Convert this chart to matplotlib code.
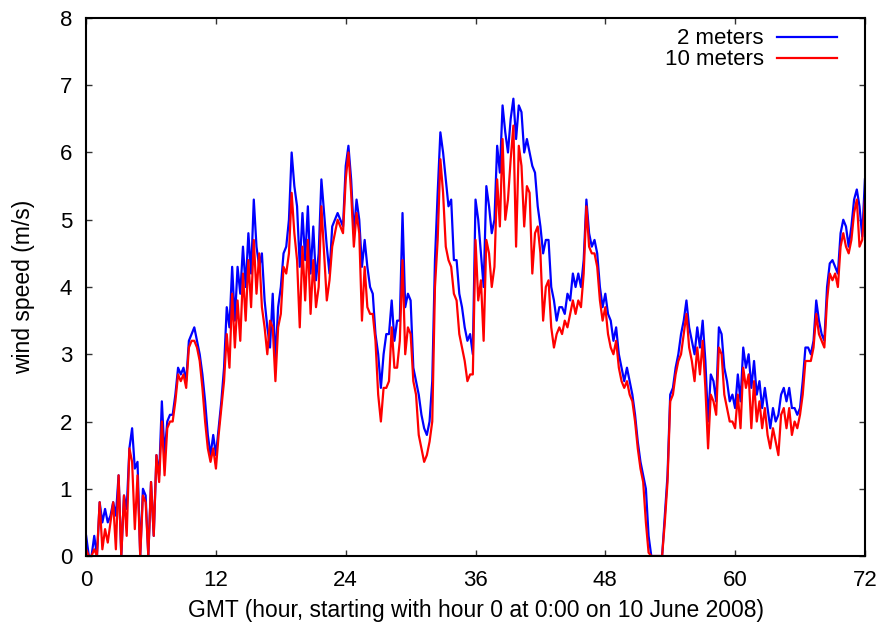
import numpy as np
import matplotlib.pyplot as plt

plt.rcParams['font.family'] = ['Liberation Sans', 'DejaVu Sans']

# wind speed (m/s) every 15 minutes, hour 0..72 (GMT)
speed_2m = [
    0.3, 0.0, 0.0, 0.3,   0.0, 0.8, 0.5, 0.7,   0.5, 0.6, 0.8, 0.6,
    1.2, 0.0, 0.9, 0.7,   1.6, 1.9, 1.3, 1.4,   0.0, 1.0, 0.9, 0.0,
    1.1, 0.3, 1.5, 1.2,   2.3, 1.5, 2.0, 2.1,   2.1, 2.4, 2.8, 2.7,
    2.8, 2.6, 3.2, 3.3,   3.4, 3.2, 3.0, 2.7,   2.3, 1.8, 1.5, 1.8,
    1.5, 1.9, 2.3, 2.8,   3.7, 3.4, 4.3, 3.5,   4.3, 3.9, 4.6, 4.0,
    4.8, 4.2, 5.3, 4.6,   4.3, 4.5, 3.8, 3.4,   3.1, 3.9, 2.9, 3.7,
    4.0, 4.5, 4.6, 5.0,   6.0, 5.5, 5.2, 4.3,   5.1, 4.4, 5.2, 4.2,
    4.9, 4.1, 4.5, 5.6,   5.1, 4.6, 4.2, 4.9,   5.0, 5.1, 5.0, 4.9,
    5.8, 6.1, 5.6, 4.8,   5.3, 5.0, 4.3, 4.7,   4.3, 4.0, 3.9, 3.3,
    3.0, 2.5, 3.0, 3.3,   3.3, 3.8, 3.2, 3.5,   3.5, 5.1, 3.7, 3.9,
    3.8, 2.8, 2.6, 2.4,   2.1, 1.9, 1.8, 2.0,   2.6, 4.4, 5.4, 6.3,
    6.0, 5.6, 5.2, 5.3,   4.4, 4.4, 3.9, 3.7,   3.4, 3.2, 3.3, 3.0,
    5.3, 5.0, 4.5, 4.0,   5.5, 5.2, 4.8, 5.0,   6.1, 5.7, 6.7, 6.3,
    6.0, 6.5, 6.8, 6.2,   6.7, 6.6, 6.0, 6.2,   6.0, 5.8, 5.7, 5.2,
    4.9, 4.5, 4.7, 4.7,   4.0, 3.8, 3.5, 3.7,   3.7, 3.6, 3.9, 3.8,
    4.2, 4.0, 4.2, 4.0,   4.4, 5.3, 4.8, 4.6,   4.7, 4.5, 4.0, 3.7,
    3.9, 3.6, 3.5, 3.2,   3.4, 3.0, 2.8, 2.6,   2.8, 2.6, 2.4, 2.1,
    1.7, 1.4, 1.2, 1.0,   0.3, 0.0, 0.0, 0.0,   0.0, 0.0, 0.6, 1.2,
    2.4, 2.5, 2.8, 3.0,   3.3, 3.5, 3.8, 3.4,   3.2, 3.0, 3.4, 3.1,
    3.5, 2.9, 2.0, 2.7,   2.6, 2.3, 3.4, 3.3,   2.8, 2.6, 2.3, 2.4,
    2.2, 2.7, 2.3, 3.1,   2.8, 3.0, 2.5, 2.9,   2.4, 2.6, 2.2, 2.5,
    2.2, 1.9, 2.2, 2.0,   2.1, 2.4, 2.5, 2.3,   2.5, 2.2, 2.2, 2.1,
    2.2, 2.6, 3.1, 3.1,   3.0, 3.2, 3.8, 3.5,   3.3, 3.2, 4.0, 4.35,
    4.4, 4.3, 4.2, 4.8,   5.0, 4.9, 4.6, 4.9,   5.3, 5.45, 5.2, 4.75,
    5.6,
]

speed_10m = [
    0.1, 0.0, 0.0, 0.1,   0.0, 0.8, 0.1, 0.4,   0.2, 0.5, 0.8, 0.1,
    1.2, 0.0, 0.9, 0.3,   1.6, 1.4, 0.4, 1.2,   0.0, 0.9, 0.8, 0.0,
    1.1, 0.3, 1.5, 1.1,   2.0, 1.2, 1.9, 2.0,   2.0, 2.3, 2.7, 2.6,
    2.7, 2.5, 3.1, 3.2,   3.2, 3.1, 2.9, 2.5,   2.0, 1.6, 1.4, 1.6,
    1.3, 1.8, 2.2, 2.6,   3.3, 2.8, 3.9, 3.1,   3.8, 3.2, 4.2, 3.5,
    4.4, 3.7, 4.7, 3.9,   4.5, 3.7, 3.4, 3.0,   3.5, 3.4, 2.6, 3.4,
    3.6, 4.3, 4.2, 4.5,   5.4, 4.8, 4.4, 3.4,   4.6, 3.8, 4.7, 3.6,
    4.4, 3.7, 4.0, 5.2,   4.5, 3.8, 4.1, 4.6,   4.8, 5.0, 4.9, 4.8,
    5.6, 6.0, 5.4, 4.6,   5.1, 4.8, 3.5, 4.3,   3.7, 3.6, 3.6, 3.2,
    2.4, 2.0, 2.5, 2.5,   2.6, 3.4, 2.8, 2.8,   3.2, 4.4, 3.0, 3.4,
    3.3, 2.6, 2.4, 1.8,   1.6, 1.4, 1.5, 1.7,   2.0, 4.0, 4.7, 5.9,
    5.4, 4.6, 4.4, 4.3,   3.9, 3.8, 3.3, 3.1,   2.9, 2.6, 2.7, 2.7,
    4.7, 3.8, 4.1, 3.2,   4.7, 4.5, 4.0, 4.3,   5.6, 4.9, 6.2, 5.0,
    5.3, 5.9, 6.4, 4.6,   6.1, 5.8, 4.9, 5.5,   5.4, 4.2, 4.8, 4.9,
    4.5, 3.5, 4.0, 4.1,   3.4, 3.1, 3.3, 3.4,   3.3, 3.5, 3.4, 3.6,
    3.8, 3.6, 3.8, 3.7,   4.2, 5.2, 4.6, 4.5,   4.5, 4.3, 3.8, 3.5,
    3.7, 3.3, 3.1, 3.0,   3.2, 2.8, 2.6, 2.5,   2.6, 2.4, 2.3, 2.0,
    1.6, 1.3, 1.1, 0.5,   0.05, 0.0, 0.0, 0.0,  0.0, 0.0, 0.5, 1.1,
    2.3, 2.4, 2.7, 2.9,   3.0, 3.3, 3.6, 3.1,   2.9, 2.6, 3.1, 2.7,
    3.2, 2.5, 1.6, 2.4,   2.3, 2.1, 3.1, 3.0,   2.4, 2.2, 2.0, 2.0,
    1.9, 2.4, 1.9, 2.8,   2.5, 2.7, 1.9, 2.6,   2.0, 2.3, 1.9, 2.2,
    1.8, 1.6, 1.9, 1.7,   1.5, 2.1, 2.2, 1.9,   2.2, 1.8, 2.0, 1.9,
    2.1, 2.4, 2.9, 2.9,   2.9, 3.1, 3.6, 3.3,   3.2, 3.1, 3.8, 4.2,
    4.1, 4.2, 4.0, 4.6,   4.8, 4.6, 4.5, 4.7,   5.1, 5.3, 4.6, 4.7,
    5.3,
]

hours = np.arange(len(speed_2m)) * 0.25

fig = plt.figure(figsize=(8.88, 6.33), dpi=100)
ax = fig.add_axes([0.097, 0.1216, 0.877, 0.85])

ax.plot(hours, speed_2m, color='#0000ff', lw=1.6, label='2 meters')
ax.plot(hours, speed_10m, color='#ff0000', lw=1.6, label='10 meters')

ax.set_xlim(0, 72)
ax.set_ylim(0, 8)
ax.set_xticks(range(0, 73, 12))
ax.set_yticks(range(0, 9))
ax.tick_params(direction='in', top=True, right=True, length=4.5, width=1,
               labelsize=16, pad=10, color='#333333')
for s in ax.spines.values():
    s.set_linewidth(1.5)

ax.set_xlabel('GMT (hour, starting with hour 0 at 0:00 on 10 June 2008)',
              fontsize=16.5, labelpad=6)
ax.set_ylabel('wind speed (m/s)', fontsize=16.5, labelpad=18)

ax.legend(loc='upper right', bbox_to_anchor=(0.973, 0.993), frameon=False,
          markerfirst=False, fontsize=16, handlelength=2.7,
          handletextpad=0.6, borderaxespad=0.0, borderpad=0.3,
          labelspacing=0.0)

fig.savefig('out.png', dpi=100)
